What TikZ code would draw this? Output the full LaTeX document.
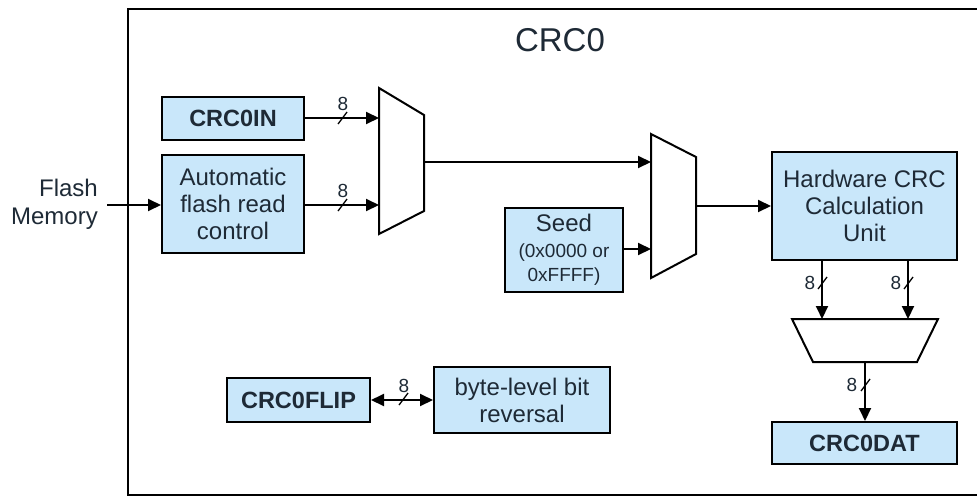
\documentclass[tikz,border=0pt]{standalone}
\usepackage{fontspec}
\setmainfont{Liberation Sans}
\usetikzlibrary{arrows.meta}
\definecolor{boxfill}{HTML}{C9E7FA}
\definecolor{ink}{HTML}{1E2A36}
\tikzset{
  blk/.style={draw=black, line width=2pt, fill=boxfill, text=ink, align=center,
    inner sep=0pt, font=\fontsize{24}{27}\selectfont},
  regbox/.style={blk, font=\fontsize{23.5}{27}\selectfont\bfseries},
  conn/.style={line width=2pt, -{Triangle[length=13pt,width=12pt]}},
  biconn/.style={line width=2pt, {Triangle[length=13pt,width=12pt]}-{Triangle[length=13pt,width=12pt]}},
  muxshape/.style={draw=black, line width=2pt, fill=white, line join=miter},
  buslbl/.style={font=\fontsize{19}{19}\selectfont, text=ink, inner sep=0pt},
  slash/.style={line width=1.3pt}
}
\newcommand{\smallseed}{\fontsize{19}{21}\selectfont}
\begin{document}
\begin{tikzpicture}[x=1pt,y=-1pt]
\useasboundingbox (0,0) rectangle (977,498);
\fill[white] (0,0) rectangle (977,498);
% frame
\draw[line width=2pt] (977,9) -- (128,9) -- (128,495) -- (977,495);
\node[font=\fontsize{33}{33}\selectfont, text=ink] (title) at (560,40) {CRC0};

% boxes
\node[regbox, minimum width=142pt, minimum height=43pt] (in) at (233,118.5) {CRC0IN};
\node[blk, minimum width=142pt, minimum height=98pt] (auto) at (233,204) {Automatic\\flash read\\control};
\node[blk, minimum width=118pt, minimum height=84pt] (seed) at (564,250)
  {Seed\\[-1pt]\smallseed (0x0000 or\\[-3pt]\smallseed 0xFFFF)};
\node[blk, minimum width=185pt, minimum height=108pt] (hw) at (864.5,206) {Hardware CRC\\Calculation\\Unit};
\node[regbox, minimum width=185pt, minimum height=42pt] (dat) at (864.5,443) {CRC0DAT};
\node[regbox, minimum width=143pt, minimum height=44pt] (flip) at (298.5,400) {CRC0FLIP};
\node[blk, minimum width=176pt, minimum height=66pt] (rev) at (522,400) {byte-level bit\\reversal};

\node[font=\fontsize{24}{28}\selectfont, text=ink, align=right, anchor=east, inner sep=0pt] (flash) at (98,204) {Flash\\Memory};
\coordinate (fsrc) at (107,205);

% muxes
\draw[muxshape] (379,88) -- (424,115) -- (424,211) -- (379,234) -- cycle;
\coordinate (m1a) at (379,118);
\coordinate (m1b) at (379,205);
\coordinate (m1o) at (424,162);
\draw[muxshape] (651,134) -- (696,157) -- (696,254) -- (651,278) -- cycle;
\coordinate (m2a) at (651,162);
\coordinate (m2b) at (651,249);
\coordinate (m2o) at (696,206);
\draw[muxshape] (792,319) -- (938,319) -- (917,362) -- (813,362) -- cycle;
\coordinate (m3a) at (822,319);
\coordinate (m3b) at (908,319);
\coordinate (m3o) at (865,362);

% connectors
\draw[conn] (fsrc) -- (auto.west |- fsrc);
\draw[conn] (in.east |- m1a) -- (m1a);
\draw[conn] (auto.east |- m1b) -- (m1b);
\draw[conn] (m1o) -- (m2a);
\draw[conn] (seed.east |- m2b) -- (m2b);
\draw[conn] (m2o) -- (hw.west |- m2o);
\draw[conn] (hw.south -| m3a) -- (m3a);
\draw[conn] (hw.south -| m3b) -- (m3b);
\draw[conn] (m3o) -- (dat.north -| m3o);
\draw[biconn] (flip.east) -- (rev.west);

% bus width marks
\draw[slash] (338,124) -- (347,112);
\node[buslbl] (l1) at (343,104) {8};
\draw[slash] (338,211) -- (347,199);
\node[buslbl] (l2) at (343,191) {8};
\draw[slash] (399,405) -- (408,393);
\node[buslbl] (l3) at (404,386) {8};
\draw[slash] (818,289) -- (827,277);
\node[buslbl] (l4) at (810,283) {8};
\draw[slash] (904,289) -- (913,277);
\node[buslbl] (l5) at (896,283) {8};
\draw[slash] (861,391) -- (870,379);
\node[buslbl] (l6) at (852,385) {8};
\end{tikzpicture}
\end{document}
